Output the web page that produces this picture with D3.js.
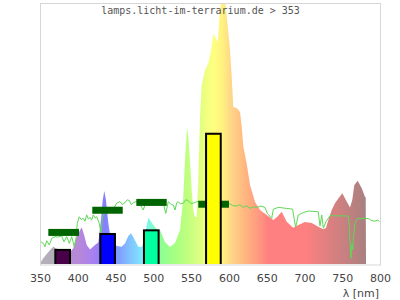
<!DOCTYPE html>
<html>
<head>
<meta charset="utf-8">
<script src="https://cdn.jsdelivr.net/npm/d3@7"></script>
<style>
  body { margin: 0; background: #fff; }
  svg { display: block; }
</style>
</head>
<body>
<script>
// lamp spectrum, [nm, relative intensity]
const spectrum = [
  [351, 0.8], [355, 2.5], [360, 4.2], [364, 5.6], [367.6, 6.6], [371, 6.0], [380, 5.2],
  [391, 5.0], [394, 6.0], [398.5, 10.5], [402, 12.5], [405.2, 14.1], [408.5, 11.0],
  [411.8, 7.3], [416.2, 5.6], [422.8, 7.3], [427.2, 8.2], [430.7, 16.9], [433, 24.5],
  [435.1, 28.0], [437.3, 24.5], [440.4, 15.7], [442.6, 11.5], [446.6, 8.4], [451.5, 6.9],
  [458, 6.6], [462.5, 7.9], [466.9, 10.7], [470.4, 11.8], [475, 9.5], [480.1, 6.6],
  [484.6, 6.5], [487.5, 8.5], [491.2, 14.9], [493.5, 17.7], [496.5, 16.5], [500, 14.9],
  [504, 13.5], [508.8, 13.0], [515.4, 8.4], [522, 6.5], [528.7, 8.0], [535.3, 13.0],
  [539.7, 25.7], [541.9, 39.8], [544.6, 52.5], [546.5, 48], [548.5, 39.8], [550.8, 28.4],
  [552.9, 20.7], [555.1, 18.0], [557.4, 18.0], [559.5, 32.2], [561.8, 56.3], [564, 68.6],
  [568.4, 74.3], [572.8, 76.9], [576, 81.2], [579.4, 88.1], [583, 86.5], [585.4, 85],
  [587.6, 95.8], [589.4, 99.6], [591, 105], [593.5, 105], [595.3, 99.6], [596.8, 96],
  [601.5, 82], [603.7, 72], [605.8, 60.2], [610.3, 59.8], [614.7, 58.2], [617, 52.6],
  [619.1, 45], [623.6, 38.3], [628, 30.3], [634.6, 23.8], [641.2, 20.7], [650, 18.8],
  [658.8, 16.9], [663.7, 18.0], [669.9, 20.0], [676.5, 16.2], [685.2, 13.9], [691.9, 14.9],
  [700.7, 16.1], [709.6, 15.7], [718.3, 14.3], [725, 13.3], [728.5, 13.8], [731.6, 16.9],
  [736.1, 20.7], [740.4, 23.3], [745.3, 25.3], [750.1, 27.1], [755.9, 23.9], [760.3, 21.6],
  [763.3, 24.5], [766, 30.3], [770.5, 31.9], [775.8, 29.0], [780.1, 25.8], [781.1, 25.5],
  [781.5, 0]
]

// daylight reference curve, [nm, relative intensity]
const daylight = [
  [351.3, 8.5], [354.4, 7.9], [356.6, 6.6], [358.9, 8.9], [362.3, 7.3], [365.5, 9.8],
  [369.9, 10.5], [373.8, 10.3], [378.7, 10.7], [381.8, 8.5], [385.3, 10.5], [388.8, 7.9],
  [392, 10.5], [395.4, 6.6], [397.6, 9.8], [399.4, 15.6], [402, 18.1], [404.5, 17.0],
  [407.3, 17.5], [409.5, 16.4], [411.8, 18.8], [414, 17.2], [416.2, 17.9], [418.3, 16.8],
  [420.5, 18.8], [423, 17.6], [425, 18.1], [428.5, 15.6], [430.7, 11.8], [433, 18.1],
  [436, 20], [439, 19.2], [442.6, 21.5], [447, 21.0], [451.5, 23.3], [455.9, 23.9],
  [459, 22.8], [462.5, 23.5], [465.5, 24.6], [468.2, 24.3], [471, 22.7], [473.5, 23.5],
  [479.7, 24.1], [486.7, 20.7], [490.3, 23.8], [496, 24.4], [502.2, 24], [507, 24.6],
  [512.8, 23.8], [516.4, 19.4], [519.8, 23.9], [523, 23.0], [526.4, 22.6], [528.7, 20.7],
  [531, 23.5], [533, 23.9], [536, 23.0], [539.7, 23.3], [543, 24.6], [546.3, 24.3],
  [549.5, 23.2], [552.9, 23.3], [557.4, 23.9], [568.4, 23.9], [581.6, 23.8], [594.9, 23.4],
  [601.5, 23], [605, 22.4], [610.3, 22.2], [614, 22.7], [619.1, 21.7], [623, 22.3],
  [628, 21.3], [632, 21.9], [636.8, 21.7], [642.1, 22.2], [647.8, 21.7], [650.8, 19.4],
  [656.7, 17.5], [658.8, 21], [665.4, 21.7], [676.5, 21.3], [684.4, 21], [686.6, 16.9],
  [688.4, 14.1], [691.9, 18.8], [698.5, 19.7], [705.1, 20.3], [718.3, 20], [720.6, 14.6],
  [722.9, 18.8], [725, 13.7], [728.5, 16.2], [732.9, 18.1], [733.8, 18.5], [758, 18.4],
  [759.4, 14.3], [760.7, 6.6], [761.6, 2.2], [762.9, 7.9], [763.9, 5.4], [765.2, 11.1],
  [766.9, 15.6], [770, 17.4], [777.9, 17.5], [784.5, 17.4], [789, 16.6], [793.4, 16.4],
  [797, 16.9], [799.1, 16.2]
]

// band averages of the reference (dark green segments)
const bandFrom = [361, 419.2, 477.5, 559.5]
const bandTo = [401.6, 459.5, 517.7, 600.1]
const bandRef = [12.1, 20.6, 23.6, 22.9]

// band averages of the lamp (outlined bars)
const barCenter = [380, 439.5, 497.3, 579.5]
const barValue = [5.4, 11.5, 12.9, 49.9]
const barColor = ['#4a0048', '#0000ff', '#00ffa0', '#ffff00']

// pastel colour of the spectrum fill along the wavelength
const specColors = [
  [350, '#b6b0ba'], [376, '#b2aab8'], [386, '#b48ccc'], [400, '#b888d8'], [420, '#a880f0'],
  [436, '#8480ff'], [455, '#80a0ff'], [475, '#80d0ff'], [490, '#80f0ff'], [500, '#80ffc0'],
  [512, '#90ff90'], [530, '#a8ff80'], [555, '#d0ff80'], [570, '#f0ff80'], [580, '#ffff80'],
  [592, '#fff080'], [602, '#ffd888'], [620, '#ffb880'], [640, '#ff9880'], [652, '#ff8080'],
  [700, '#ff8080'], [730, '#e08080'], [760, '#c08080'], [785, '#a48080']
]

const xTicks = [350, 400, 450, 500, 550, 600, 650, 700, 750, 800]

const width = 400, height = 300
const plotLeft = 40, plotRight = 380, plotTop = 3, plotBottom = 264

const svg = d3.select('body').append('svg')
  .attr('width', width)
  .attr('height', height)

const x = d3.scaleLinear().domain([350, 800]).range([plotLeft, plotRight])
const y = d3.scaleLinear().domain([0, 100]).range([plotBottom, plotTop])

const defs = svg.append('defs')
defs.append('clipPath').attr('id', 'plot')
  .append('rect')
  .attr('x', plotLeft).attr('y', plotTop)
  .attr('width', plotRight - plotLeft).attr('height', plotBottom - plotTop)

const grad = defs.append('linearGradient')
  .attr('id', 'spec')
  .attr('gradientUnits', 'userSpaceOnUse')
  .attr('x1', x(350)).attr('x2', x(800))
  .attr('y1', 0).attr('y2', 0)
grad.selectAll('stop')
  .data(specColors)
  .enter()
  .append('stop')
  .attr('offset', d => (d[0] - 350) / 450)
  .attr('stop-color', d => d[1])

const plot = svg.append('g').attr('clip-path', 'url(#plot)')

// spectrum area
const area = d3.area()
  .x(d => x(d[0]))
  .y0(y(0))
  .y1(d => y(d[1]))
plot.append('path')
  .datum(spectrum)
  .attr('d', area)
  .attr('fill', 'url(#spec)')

// daylight curve
const line = d3.line()
  .x(d => x(d[0]))
  .y(d => y(d[1]))
plot.append('path')
  .datum(daylight)
  .attr('d', line)
  .attr('fill', 'none')
  .attr('stroke', '#5fd855')
  .attr('stroke-width', 1)

// reference band segments
plot.selectAll('rect.band')
  .data(bandRef)
  .enter()
  .append('rect')
  .attr('class', 'band')
  .attr('x', (d, i) => x(bandFrom[i]))
  .attr('width', (d, i) => x(bandTo[i]) - x(bandFrom[i]))
  .attr('y', d => y(d) - 3.5)
  .attr('height', 7)
  .attr('fill', '#006400')

// lamp band bars
plot.selectAll('rect.bar')
  .data(barValue)
  .enter()
  .append('rect')
  .attr('class', 'bar')
  .attr('x', (d, i) => x(barCenter[i] - 9.7))
  .attr('width', (d, i) => x(barCenter[i] + 9.7) - x(barCenter[i] - 9.7))
  .attr('y', d => y(d))
  .attr('height', d => y(0) - y(d) + 2)
  .attr('fill', (d, i) => barColor[i])
  .attr('stroke', '#000')
  .attr('stroke-width', 2)

// frame
svg.append('rect')
  .attr('x', plotLeft + 0.5).attr('y', plotTop + 0.5)
  .attr('width', plotRight - plotLeft).attr('height', plotBottom - plotTop + 0.5)
  .attr('fill', 'none')
  .attr('stroke', '#d6d6d6')

// x axis labels
const axis = d3.axisBottom(x)
  .tickValues(xTicks)
  .tickSize(0)
  .tickPadding(10)
  .tickFormat(d3.format('d'))
const gx = svg.append('g')
  .attr('transform', `translate(0,${plotBottom})`)
  .call(axis)
gx.select('.domain').remove()
gx.selectAll('text')
  .attr('fill', '#444')
  .style('font-family', 'DejaVu Sans')
  .style('font-size', '11px')

svg.append('text')
  .attr('x', 379)
  .attr('y', 297)
  .attr('text-anchor', 'end')
  .style('font-family', 'DejaVu Sans')
  .style('font-size', '11px')
  .attr('fill', '#444')
  .text('λ [nm]')

svg.append('text')
  .attr('x', 200.5)
  .attr('y', 14)
  .attr('text-anchor', 'middle')
  .style('font-family', 'DejaVu Sans Mono')
  .style('font-size', '10px')
  .attr('fill', '#555')
  .text('lamps.licht-im-terrarium.de > 353')
</script>
</body>
</html>
